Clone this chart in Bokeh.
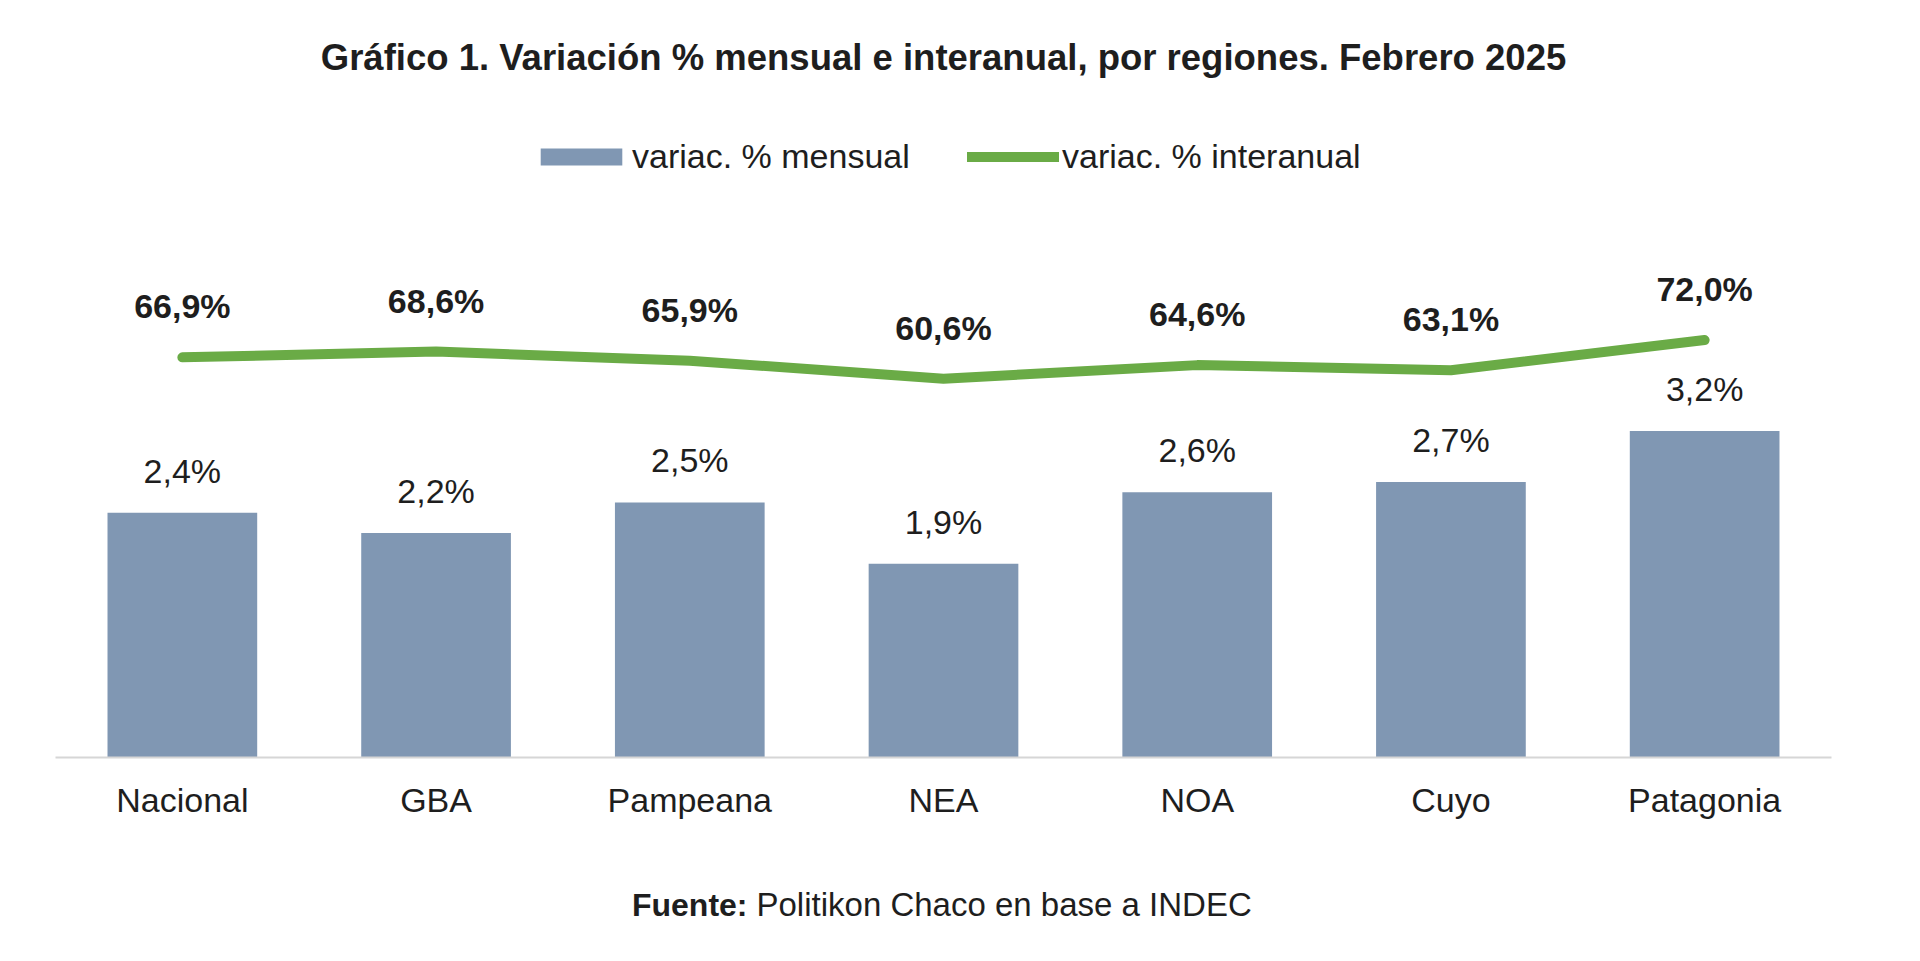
from bokeh.plotting import figure
from bokeh.layouts import column
from bokeh.models import ColumnDataSource, Range1d, Label, Legend, LegendItem
from bokeh.embed import file_html
from bokeh.resources import INLINE
from bokeh.core.properties import value

# Datos: variación % por región, febrero 2025
regiones = ["Nacional", "GBA", "Pampeana", "NEA", "NOA", "Cuyo", "Patagonia"]
var_mensual = [2.4, 2.2, 2.5, 1.9, 2.6, 2.7, 3.2]
var_interanual = [66.9, 68.6, 65.9, 60.6, 64.6, 63.1, 72.0]

titulo = "Gráfico 1. Variación % mensual e interanual, por regiones. Febrero 2025"
leyenda_mensual = "variac. % mensual"
leyenda_interanual = "variac. % interanual"
fuente_negrita = "Fuente:"
fuente_texto = "Politikon Chaco en base a INDEC"


def pct(v):
    return f"{v:.1f}".replace(".", ",") + "%"


FONT = "Liberation Sans"
TEXT_COLOR = "#1e1e1e"
BAR_COLOR = "#8097b3"
LINE_COLOR = "#6aab46"

W = 1920
CHART_H, FOOT_H = 861, 100
LEFT, RIGHT = 55, 89
FRAME_H = 757
BOTTOM = CHART_H - FRAME_H

src = ColumnDataSource(dict(
    region=regiones,
    mensual=var_mensual,
    interanual=var_interanual,
    lab_m=[pct(v) for v in var_mensual],
    lab_i=[pct(v) for v in var_interanual],
))

p = figure(
    width=W, height=CHART_H,
    x_range=regiones,
    y_range=Range1d(0, 7.42),
    y_axis_location=None,
    output_backend="svg",
    toolbar_location=None,
    min_border_left=LEFT, min_border_right=RIGHT,
    min_border_top=0, min_border_bottom=BOTTOM,
    outline_line_color=None,
)
p.extra_y_ranges = {"inter": Range1d(-51.3, 172.3)}

p.xgrid.grid_line_color = None
p.ygrid.grid_line_color = None

bars = p.vbar(x="region", top="mensual", width=0.59, source=src,
              fill_color=BAR_COLOR, line_color=None)
line = p.line(x="region", y="interanual", y_range_name="inter", source=src,
              line_color=LINE_COLOR, line_width=10,
              line_cap="round", line_join="round")

p.text(x="region", y="mensual", text="lab_m", source=src,
       text_align="center", text_baseline="middle", y_offset=-42,
       text_font=value(FONT), text_font_size="34px", text_color=TEXT_COLOR)
p.text(x="region", y="interanual", text="lab_i", source=src, y_range_name="inter",
       text_align="center", text_baseline="middle", y_offset=-51,
       text_font=value(FONT), text_font_size="34px", text_font_style="bold",
       text_color=TEXT_COLOR)

ax = p.xaxis[0]
ax.axis_line_color = "#d6d6d6"
ax.axis_line_width = 2
ax.major_tick_line_color = None
ax.minor_tick_line_color = None
ax.major_label_standoff = 17
ax.major_label_text_font = FONT
ax.major_label_text_font_size = "34px"
ax.major_label_text_color = TEXT_COLOR


def legend_for(item, x_canvas, glyph_w, standoff):
    lg = Legend(items=[item], orientation="horizontal",
                location=(x_canvas - LEFT, FRAME_H - 159 - 17),
                glyph_width=glyph_w, glyph_height=21,
                label_standoff=standoff, label_height=21,
                label_text_font=FONT, label_text_font_size="34px",
                label_text_color=TEXT_COLOR,
                padding=0, margin=0, spacing=0,
                border_line_color=None, background_fill_alpha=0)
    p.add_layout(lg)


legend_for(LegendItem(label=leyenda_mensual, renderers=[bars]), 530, 102, 0)
legend_for(LegendItem(label=leyenda_interanual, renderers=[line]), 967, 92, 3)

p.add_layout(Label(x=943 - LEFT, y=FRAME_H - 57, x_units="screen", y_units="screen",
                   text=titulo, text_align="center", text_baseline="middle",
                   text_font=FONT, text_font_size="36.5px", text_font_style="bold",
                   text_color=TEXT_COLOR))

# Pie con la fuente de los datos (su marco queda alineado con el del gráfico)
foot = figure(width=W, height=FOOT_H, x_range=Range1d(0, 1), y_range=Range1d(0, 1),
              x_axis_location=None, y_axis_location=None,
              output_backend="svg", toolbar_location=None,
              min_border=0, min_border_left=LEFT, min_border_right=RIGHT,
              outline_line_color=None)
foot.xgrid.grid_line_color = None
foot.ygrid.grid_line_color = None
foot_y = FOOT_H - (904 - CHART_H)
foot.add_layout(Label(x=747 - LEFT, y=foot_y, x_units="screen", y_units="screen",
                      text=fuente_negrita, text_align="right", text_baseline="middle",
                      text_font=FONT, text_font_size="32px", text_font_style="bold",
                      text_color=TEXT_COLOR))
foot.add_layout(Label(x=756 - LEFT, y=foot_y, x_units="screen", y_units="screen",
                      text=fuente_texto, text_align="left", text_baseline="middle",
                      text_font=FONT, text_font_size="33px",
                      text_color=TEXT_COLOR))

layout = column(p, foot, spacing=0)
open("out.html", "w").write(file_html(layout, INLINE))
